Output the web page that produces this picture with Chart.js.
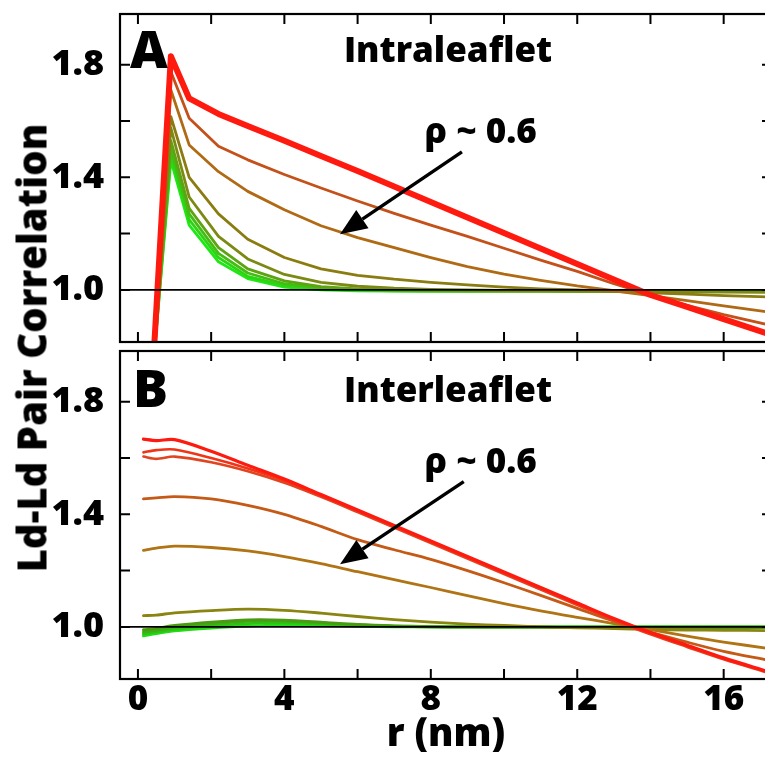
<!DOCTYPE html>
<html><head><meta charset="utf-8">
<script src="https://cdn.jsdelivr.net/npm/chart.js@4"></script>
<style>
html,body{margin:0;padding:0;background:#fff;overflow:hidden;width:765px;height:760px;}
#wrap{position:relative;width:765px;height:760px;overflow:hidden;}
canvas{position:absolute;left:0;}
#cA{top:0px;} #cB{top:346px;}
#ytitle{position:absolute;left:31px;top:348px;transform:translate(-50%,-50%) rotate(-90deg);font:800 40px 'Open Sans',sans-serif;white-space:nowrap;color:#000;}
</style></head><body>
<div id="wrap">
<canvas id="cA" width="772" height="346"></canvas>
<canvas id="cB" width="772" height="414"></canvas>
<div id="ytitle">Ld-Ld Pair Correlation</div>
</div>
<script>
// ---------- DATA ----------
const rA = [0.4,0.9,1.4,2.2,3,4,5,6,7,8,9,10,11,12,13,14,15,16,17.2];
const rB = [0.15,0.5,1,2,3,4,5,6,7,8,9,10,11,12,13,14,15,16,17.2];

// Panel A (intraleaflet)
const intraRed    = [0.70,1.83,1.68,1.625,1.582,1.53,1.476,1.422,1.367,1.312,1.257,1.202,1.147,1.092,1.037,0.982,0.94,0.896,0.845];
const intraBrown1 = [0.70,1.775,1.61,1.51,1.462,1.41,1.362,1.316,1.272,1.23,1.19,1.148,1.106,1.066,1.022,0.982,0.945,0.912,0.877];
const intraBrown2 = [0.70,1.71,1.515,1.42,1.35,1.285,1.228,1.186,1.15,1.115,1.083,1.056,1.034,1.014,0.997,0.98,0.962,0.943,0.922];
const intraOlive1 = [0.70,1.615,1.40,1.27,1.18,1.115,1.075,1.052,1.038,1.027,1.018,1.01,1.004,1.0,0.995,0.99,0.985,0.98,0.975];
const intraOlive2 = [0.70,1.575,1.33,1.19,1.11,1.055,1.027,1.013,1.006,1.002,1.0,0.998,0.997,0.996,0.995,0.994,0.993,0.992,0.991];
const intraGreen1 = [0.70,1.53,1.29,1.15,1.075,1.032,1.012,1.004,1.0,0.998,0.997,0.996,0.996,0.995,0.995,0.995,0.994,0.994,0.994];
const intraGreen2 = [0.70,1.50,1.27,1.13,1.06,1.022,1.007,1.001,0.998,0.997,0.996,0.996,0.996,0.996,0.996,0.996,0.996,0.996,0.996];
const intraGreen3 = [0.70,1.48,1.25,1.115,1.048,1.015,1.003,0.999,0.997,0.996,0.996,0.997,0.997,0.997,0.997,0.997,0.997,0.997,0.997];
const intraGreen4 = [0.70,1.46,1.23,1.10,1.04,1.01,1.0,0.997,0.996,0.996,0.997,0.997,0.998,0.998,0.998,0.998,0.998,0.998,0.998];

// Panel B (interleaflet)
const interRed    = [1.667,1.662,1.665,1.624,1.574,1.525,1.47,1.415,1.36,1.305,1.25,1.195,1.14,1.085,1.03,0.98,0.935,0.89,0.842];
const interRed2   = [1.62,1.628,1.63,1.6,1.563,1.52,1.467,1.412,1.357,1.302,1.247,1.192,1.137,1.082,1.027,0.977,0.932,0.887,0.84];
const interRed3   = [1.605,1.597,1.605,1.585,1.553,1.512,1.462,1.408,1.353,1.298,1.243,1.188,1.133,1.078,1.023,0.974,0.929,0.885,0.838];
const interBrown1 = [1.455,1.458,1.463,1.455,1.432,1.40,1.357,1.31,1.274,1.24,1.2,1.157,1.112,1.066,1.02,0.982,0.946,0.913,0.882];
const interBrown2 = [1.272,1.28,1.287,1.282,1.27,1.25,1.225,1.196,1.168,1.14,1.111,1.083,1.057,1.034,1.012,0.99,0.967,0.946,0.924];
const interOlive  = [1.04,1.042,1.05,1.058,1.063,1.059,1.049,1.037,1.026,1.017,1.01,1.005,1.0,0.997,0.994,0.991,0.989,0.988,0.987];
const interGreen1 = [0.99,0.995,1.005,1.017,1.025,1.024,1.017,1.009,1.004,1.001,1.0,0.999,0.999,0.998,0.998,0.998,0.998,0.998,0.998];
const interGreen2 = [0.982,0.988,0.998,1.01,1.02,1.021,1.014,1.007,1.003,1.0,0.999,0.999,0.999,0.999,0.999,0.999,0.999,0.999,0.999];
const interGreen3 = [0.975,0.982,0.992,1.003,1.012,1.014,1.01,1.005,1.002,1.0,1.0,1.0,1.0,1.0,1.0,1.0,1.0,1.0,1.0];
const interGreen4 = [0.968,0.976,0.986,0.996,1.003,1.006,1.005,1.002,1.0,1.0,1.0,1.0,1.0,1.0,1.0,1.0,1.0,1.0,1.0];

// Ticks
const xTicks  = [0,2,4,6,8,10,12,14,16];
const xLabels = [0,4,8,12,16];
const yTicks  = [1.0,1.2,1.4,1.6,1.8];
const yLabels = [1.0,1.4,1.8];
const refLine = 1.0;

// ---------- STYLE / LAYOUT ----------
const FONT = "'Open Sans', sans-serif";
const W = 800;
const X_MIN = -0.49, X_MAX = 17.32, Y_MIN = 0.815, Y_MAX = 1.98;

const seriesA = [
  {data: intraRed,    color:'#ff1a10', w:6},
  {data: intraBrown1, color:'#c4501a', w:2.8},
  {data: intraBrown2, color:'#b06a14', w:2.8},
  {data: intraOlive1, color:'#8a7c10', w:2.8},
  {data: intraOlive2, color:'#7a8a12', w:2.8},
  {data: intraGreen1, color:'#5ca410', w:2.8},
  {data: intraGreen2, color:'#44bc14', w:2.8},
  {data: intraGreen3, color:'#2cd414', w:2.8},
  {data: intraGreen4, color:'#1ee814', w:2.8}
];
const seriesB = [
  {data: interRed,    color:'#ff1a10', w:3.2},
  {data: interRed2,   color:'#f03418', w:2.6},
  {data: interRed3,   color:'#e04420', w:2.6},
  {data: interBrown1, color:'#c45a16', w:2.8},
  {data: interBrown2, color:'#b07414', w:2.8},
  {data: interOlive,  color:'#8a8410', w:2.8},
  {data: interGreen1, color:'#4a9a14', w:2.8},
  {data: interGreen2, color:'#3cae14', w:2.8},
  {data: interGreen3, color:'#2cc414', w:2.8},
  {data: interGreen4, color:'#22dc14', w:2.8}
];

const notesA = {letter:'A', letterAt:[-0.217,1.788], title:'Intraleaflet', titleAt:[8.47,1.809],
  rho:'ρ ~ 0.6', rhoAt:[9.36,1.521], arrowFrom:[8.85,1.49], arrowTo:[5.52,1.198]};
const notesB = {letter:'B', letterAt:[-0.135,1.781], title:'Interleaflet', titleAt:[8.47,1.799],
  rho:'ρ ~ 0.6', rhoAt:[9.36,1.547], arrowFrom:[8.90,1.516], arrowTo:[5.52,1.223]};

const panelPlugin = {
  id: 'panelDecor',
  afterDatasetsDraw(chart, args, opts) {
    const {ctx, chartArea: a, scales: {x, y}} = chart;
    ctx.save();
    const yr = y.getPixelForValue(refLine);
    ctx.strokeStyle = '#000'; ctx.lineWidth = 1.8;
    ctx.beginPath(); ctx.moveTo(a.left, yr); ctx.lineTo(a.right, yr); ctx.stroke();
    ctx.lineWidth = 2.2;
    ctx.strokeRect(a.left, a.top, a.right - a.left, a.bottom - a.top);
    const L = 10;
    ctx.lineWidth = 2;
    ctx.beginPath();
    x.ticks.forEach(t => {
      const px = x.getPixelForValue(t.value);
      ctx.moveTo(px, a.top); ctx.lineTo(px, a.top + L);
      ctx.moveTo(px, a.bottom); ctx.lineTo(px, a.bottom - L);
    });
    y.ticks.forEach(t => {
      const py = y.getPixelForValue(t.value);
      ctx.moveTo(a.left, py); ctx.lineTo(a.left + L, py);
      ctx.moveTo(a.right, py); ctx.lineTo(a.right - L, py);
    });
    ctx.stroke();
    const n = opts;
    if (n && n.letter) {
      ctx.fillStyle = '#000';
      ctx.textBaseline = 'alphabetic';
      ctx.font = W + ' 52px ' + FONT;
      ctx.textAlign = 'left';
      ctx.fillText(n.letter, x.getPixelForValue(n.letterAt[0]), y.getPixelForValue(n.letterAt[1]));
      ctx.font = W + ' 35px ' + FONT;
      ctx.textAlign = 'center';
      ctx.fillText(n.title, x.getPixelForValue(n.titleAt[0]), y.getPixelForValue(n.titleAt[1]));
      ctx.fillText(n.rho, x.getPixelForValue(n.rhoAt[0]), y.getPixelForValue(n.rhoAt[1]));
      const x1 = x.getPixelForValue(n.arrowFrom[0]), y1 = y.getPixelForValue(n.arrowFrom[1]);
      const x2 = x.getPixelForValue(n.arrowTo[0]),   y2 = y.getPixelForValue(n.arrowTo[1]);
      const ang = Math.atan2(y2 - y1, x2 - x1);
      const hl = 27, hw = 11;
      const bx = x2 - hl * Math.cos(ang), by = y2 - hl * Math.sin(ang);
      ctx.lineWidth = 3.4;
      ctx.beginPath(); ctx.moveTo(x1, y1); ctx.lineTo(bx, by); ctx.stroke();
      ctx.beginPath();
      ctx.moveTo(x2, y2);
      ctx.lineTo(bx + hw * Math.sin(ang), by - hw * Math.cos(ang));
      ctx.lineTo(bx - hw * Math.sin(ang), by + hw * Math.cos(ang));
      ctx.closePath(); ctx.fill();
    }
    ctx.restore();
  }
};

function makeDatasets(series, r, tension) {
  return series.map((s, i) => ({
    label: 'series ' + (i + 1),
    data: r.map((xv, k) => ({x: xv, y: s.data[k]})),
    borderColor: s.color, backgroundColor: s.color,
    borderWidth: s.w, pointRadius: 0, tension: tension, fill: false, clip: 0,
    borderJoinStyle: 'round', borderCapStyle: 'round'
  }));
}

function makeChart(canvasId, series, r, tension, notes, showX) {
  const xScale = {
    type: 'linear', min: X_MIN, max: X_MAX,
    afterBuildTicks: s => { s.ticks = xTicks.map(v => ({value: v})); },
    grid: {display: false}, border: {display: false},
    ticks: {
      display: showX, autoSkip: false, maxRotation: 0, color: '#000', padding: -8,
      font: {family: FONT, size: 35, weight: W},
      callback: v => xLabels.includes(v) ? String(v) : ''
    },
    title: showX ? {display: true, text: 'r (nm)', color: '#000', padding: {top: 0, bottom: 2},
      font: {family: FONT, size: 38, weight: W}} : {display: false},
    afterFit: s => { s.height = showX ? 81 : 0; s.paddingLeft = 0; s.paddingRight = 0; s.paddingTop = 0; s.paddingBottom = 0; }
  };
  const yScale = {
    type: 'linear', min: Y_MIN, max: Y_MAX,
    afterBuildTicks: s => { s.ticks = yTicks.map(v => ({value: v})); },
    grid: {display: false}, border: {display: false},
    ticks: {
      autoSkip: false, color: '#000', padding: 8,
      font: {family: FONT, size: 36, weight: W},
      callback: v => yLabels.includes(v) ? v.toFixed(1) : ''
    },
    afterFit: s => { s.width = 120; s.paddingTop = 0; s.paddingBottom = 0; s.paddingLeft = 0; s.paddingRight = 0; }
  };
  return new Chart(document.getElementById(canvasId), {
    type: 'line',
    data: {datasets: makeDatasets(series, r, tension)},
    options: {
      responsive: false, animation: false, devicePixelRatio: 1,
      layout: {padding: showX ? {top: 5, bottom: 0, left: 0, right: 0} : {top: 14, bottom: 4, left: 0, right: 0}},
      plugins: {legend: {display: false}, tooltip: {enabled: false}, title: {display: false}, panelDecor: notes},
      scales: {x: xScale, y: yScale},
      events: []
    },
    plugins: [panelPlugin]
  });
}

function init() {
  makeChart('cA', seriesA, rA, 0, notesA, false);
  makeChart('cB', seriesB, rB, 0.3, notesB, true);
}
if (document.fonts && document.fonts.load) {
  Promise.all([document.fonts.load("800 35px 'Open Sans'"), document.fonts.load("bold 35px 'Open Sans'")]).then(init, init);
} else { init(); }
</script>
</body></html>
